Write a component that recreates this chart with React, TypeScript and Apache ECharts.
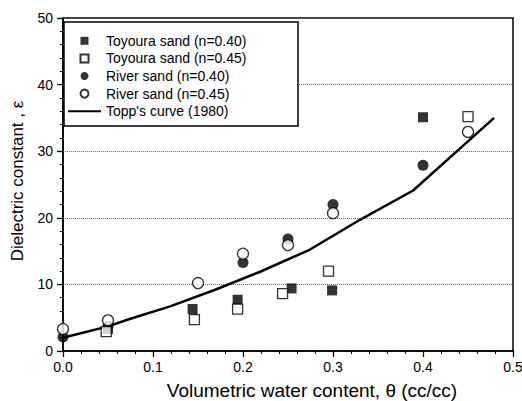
import React, { useEffect, useRef } from "react";
import * as echarts from "echarts";

const seriesNames = [
  "Toyoura sand (n=0.40)",
  "Toyoura sand (n=0.45)",
  "River sand (n=0.40)",
  "River sand (n=0.45)",
  "Topp's curve (1980)",
];

const toyoura040: number[][] = [
  [0.05, 3.3], [0.144, 6.3], [0.194, 7.7], [0.254, 9.4], [0.299, 9.1], [0.4, 35.1],
];
const toyoura045: number[][] = [
  [0.048, 2.9], [0.146, 4.7], [0.194, 6.3], [0.244, 8.6], [0.295, 12.0], [0.45, 35.2],
];
const river040: number[][] = [
  [0, 2.1], [0.05, 3.7], [0.2, 13.3], [0.25, 16.8], [0.3, 22.0], [0.4, 27.9],
];
const river045: number[][] = [
  [0, 3.3], [0.05, 4.6], [0.15, 10.2], [0.2, 14.6], [0.25, 15.9], [0.3, 20.7], [0.45, 32.9],
];
const toppCurve: number[][] = [
  [0, 2.0], [0.05, 3.7], [0.074, 4.8], [0.119, 6.7], [0.169, 9.2], [0.219, 11.9],
  [0.274, 15.2], [0.33, 19.7], [0.389, 24.1], [0.479, 35.0],
];

const xTickLabels = ["0.0", "0.1", "0.2", "0.3", "0.4", "0.5"];
const yTickLabels = ["0", "10", "20", "30", "40", "50"];

const FONT = "'Liberation Sans', Arial, sans-serif";
const SQUARE_ICON = "path://M0 0H10V10H0Z";

export default function App() {
  const ref = useRef<HTMLDivElement>(null);

  useEffect(() => {
    if (!ref.current) return;
    const chart = echarts.init(ref.current, null, { renderer: "svg" });
    const filled = { color: "#000" };
    const open = { color: "#fff", borderColor: "#000", borderWidth: 1.3 };
    chart.setOption({
      animation: false,
      backgroundColor: "#fff",
      textStyle: { fontFamily: FONT, color: "#000" },
      grid: {
        left: 63,
        right: 9,
        top: 18,
        bottom: 50,
        outerBoundsMode: "none",
        containLabel: false,
        show: true,
        borderColor: "#000",
        borderWidth: 1.5,
        backgroundColor: "transparent",
      },
      legend: {
        orient: "vertical",
        left: 67,
        top: 32,
        itemWidth: 33,
        itemHeight: 8,
        itemGap: 0,
        padding: 0,
        z: 20,
        data: [
          { name: seriesNames[0], icon: SQUARE_ICON },
          { name: seriesNames[1], icon: SQUARE_ICON },
          { name: seriesNames[2] },
          { name: seriesNames[3] },
          { name: seriesNames[4], itemStyle: { color: "transparent", borderWidth: 0 } },
        ],
        textStyle: { fontFamily: FONT, fontSize: 14, color: "#000", lineHeight: 17.6 },
      },
      graphic: [
        {
          type: "rect",
          shape: { x: 64, y: 22, width: 234, height: 104 },
          style: { fill: "#fff", stroke: "#000", lineWidth: 1.5 },
          z: 1,
        },
      ],
      xAxis: {
        type: "value",
        min: 0,
        max: 0.5,
        interval: 0.1,
        name: "Volumetric water content, θ (cc/cc)",
        nameLocation: "middle",
        nameGap: 29,
        nameTextStyle: {
          fontFamily: FONT,
          fontSize: 19,
          lineHeight: 20,
          color: "#000",
          padding: [0, 0, 0, 48],
        },
        axisLine: { lineStyle: { color: "#000", width: 1.5 } },
        axisTick: { inside: false, length: 6, lineStyle: { color: "#000", width: 1.3 } },
        minorTick: { show: true, splitNumber: 5, length: 3, lineStyle: { color: "#000", width: 1 } },
        axisLabel: {
          fontFamily: FONT,
          fontSize: 14,
          color: "#000",
          margin: 9,
          formatter: (v: number) => xTickLabels[Math.round(v * 10)] ?? "",
        },
        splitLine: { show: false },
      },
      yAxis: {
        type: "value",
        min: 0,
        max: 50,
        interval: 10,
        name: "Dielectric constant , ε",
        nameLocation: "middle",
        nameGap: 37,
        nameTextStyle: { fontFamily: FONT, fontSize: 17, color: "#000", padding: [0, 0, 0, 7] },
        axisLine: { lineStyle: { color: "#000", width: 1.5 } },
        axisTick: { inside: false, length: 6, lineStyle: { color: "#000", width: 1.3 } },
        minorTick: { show: true, splitNumber: 5, length: 3, lineStyle: { color: "#000", width: 1 } },
        axisLabel: {
          fontFamily: FONT,
          fontSize: 14,
          color: "#000",
          margin: 10,
          formatter: (v: number) => yTickLabels[Math.round(v / 10)] ?? "",
        },
        splitLine: { show: true, lineStyle: { color: "#666", type: "dotted", width: 1 } },
      },
      series: [
        {
          name: seriesNames[0],
          type: "scatter",
          symbol: "rect",
          symbolSize: 10,
          itemStyle: filled,
          data: toyoura040,
          z: 3,
        },
        {
          name: seriesNames[1],
          type: "scatter",
          symbol: "rect",
          symbolSize: 10,
          itemStyle: open,
          data: toyoura045,
          z: 4,
        },
        {
          name: seriesNames[2],
          type: "scatter",
          symbol: "circle",
          symbolSize: 11,
          itemStyle: filled,
          data: river040,
          z: 3,
        },
        {
          name: seriesNames[3],
          type: "scatter",
          symbol: "circle",
          symbolSize: 11,
          itemStyle: open,
          data: river045,
          z: 4,
        },
        {
          name: seriesNames[4],
          type: "line",
          symbol: "none",
          showSymbol: false,
          lineStyle: { color: "#000", width: 2.5 },
          itemStyle: { color: "#000" },
          data: toppCurve,
          z: 2,
        },
      ],
    });
    return () => chart.dispose();
  }, []);

  return (
    <div
      ref={ref}
      style={{ position: "absolute", left: 0, top: 0, width: 522, height: 401 }}
    />
  );
}
